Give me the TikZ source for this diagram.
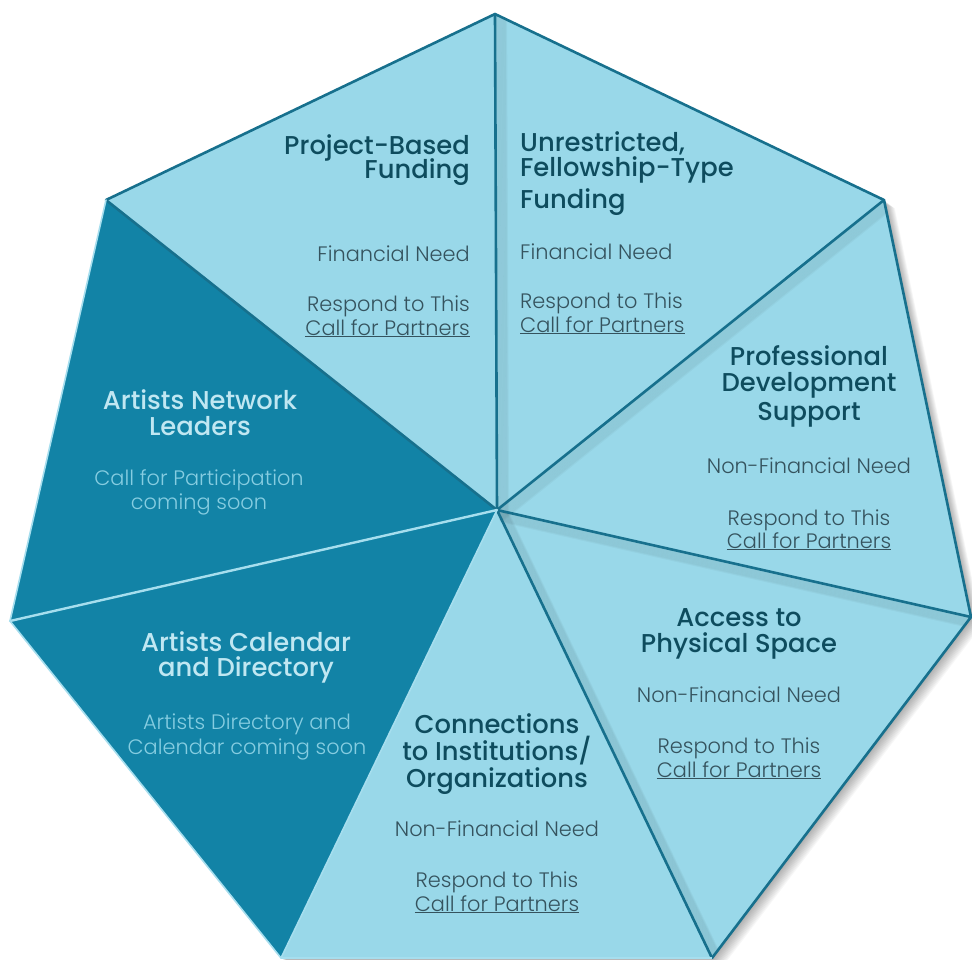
\documentclass[tikz,border=0pt]{standalone}
\usepackage{fontspec}
\setmainfont{Poppins}
\IfFontExistsTF{Poppins Light}{\newfontfamily\bodyfnt{Poppins Light}}{\newfontfamily\bodyfnt{Poppins}}
\IfFontExistsTF{Poppins Medium}{\newfontfamily\titlefnt{Poppins Medium}}{\newfontfamily\titlefnt{Poppins}[UprightFont=*-Bold]}
\definecolor{lightfill}{HTML}{99D8E9}
\definecolor{darkfill}{HTML}{1283A6}
\definecolor{edgecol}{HTML}{17708D}
\definecolor{titlecol}{HTML}{0E4C5E}
\definecolor{bodycol}{HTML}{35535E}
\definecolor{dtitlecol}{HTML}{C0E7F2}
\definecolor{dbodycol}{HTML}{86CDE1}
\definecolor{sepcol}{HTML}{A6DEEE}
\tikzset{
  ttl/.style={font=\titlefnt\fontsize{25.8}{29}\selectfont, text=titlecol, inner sep=0pt},
  bdy/.style={font=\bodyfnt\fontsize{20.9}{24}\selectfont, text=bodycol, inner sep=0pt},
  dttl/.style={ttl, text=dtitlecol},
  dbdy/.style={bdy, text=dbodycol},
  lightseg/.style={fill=lightfill},
  darkseg/.style={fill=darkfill},
  spoke/.style={draw=edgecol, line width=2.6pt, line join=round, line cap=round},
  lspoke/.style={draw=sepcol, line width=2.4pt, line join=round, line cap=round},
}
\newcommand{\cfp}{\underline{Call for Partners}}
\begin{document}
\begin{tikzpicture}[x=1pt,y=-1pt]
\useasboundingbox (0,0) rectangle (972,959);
\coordinate (C) at (497,510);
\coordinate (T) at (495,14);
\coordinate (UL) at (106,200);
\coordinate (UR) at (884,200);
\coordinate (R) at (971,617);
\coordinate (L) at (10,621);
\coordinate (BL) at (281,958);
\coordinate (BR) at (712,958);
% outer drop shadow
\foreach \k in {1,...,12}{
  \fill[black,opacity=0.03] ([shift={(\k*0.9,\k*0.7)}]T) -- ([shift={(\k*0.9,\k*0.7)}]UR) -- ([shift={(\k*0.9,\k*0.7)}]R) -- ([shift={(\k*0.9,\k*0.7)}]BR) -- ([shift={(\k*0.9,\k*0.7)}]BL) -- ([shift={(\k*0.9,\k*0.7)}]L) -- ([shift={(\k*0.9,\k*0.7)}]UL) -- cycle;
}
% segments
\fill[lightseg] (C) -- (T) -- (UL) -- cycle;
\fill[lightseg] (C) -- (T) -- (UR) -- cycle;
\fill[lightseg] (C) -- (UR) -- (R) -- cycle;
\fill[lightseg] (C) -- (R) -- (BR) -- cycle;
\fill[lightseg] (C) -- (BR) -- (BL) -- cycle;
\fill[darkseg] (C) -- (UL) -- (L) -- cycle;
\fill[darkseg] (C) -- (L) -- (BL) -- cycle;
% inner shadows cast by the spokes
\begin{scope}
  \clip (T) -- (UR) -- (R) -- (BR) -- (BL) -- (C) -- cycle;
  \foreach \k in {1,...,10}{
    \draw[black,opacity=0.032,line width=2.2pt] ([shift={(\k*1.1,\k*0.5)}]C) -- ([shift={(\k*1.1,\k*0.5)}]T);
    \draw[black,opacity=0.032,line width=2.2pt] ([shift={(\k*0.5,\k*1.1)}]C) -- ([shift={(\k*0.5,\k*1.1)}]UR);
    \draw[black,opacity=0.032,line width=2.2pt] ([shift={(\k*0.3,\k*1.1)}]C) -- ([shift={(\k*0.3,\k*1.1)}]R);
    \draw[black,opacity=0.032,line width=2.2pt] ([shift={(\k*1.1,\k*0.3)}]C) -- ([shift={(\k*1.1,\k*0.3)}]BR);
  }
\end{scope}
% outlines
\draw[spoke] (T) -- (UR) -- (R) -- (BR);
\draw[spoke] (UL) -- (T);
\draw[spoke] (C) -- (T);
\draw[spoke] (C) -- (UR);
\draw[spoke] (C) -- (R);
\draw[spoke] (C) -- (BR);
\draw[spoke] (C) -- (UL);
\draw[lspoke, line width=1.6pt] (UL) -- (L) -- (BL);
\draw[lspoke] (C) -- (L);
\draw[lspoke, line width=1.6pt] (C) -- (BL);
\draw[draw=sepcol, line width=1.5pt] (BL) -- (BR);

% Project-Based Funding
\node[ttl, anchor=base east] (pb1) at (470,154) {Project-Based};
\node[ttl, anchor=base east] (pb2) at (470,178) {Funding};
\node[bdy, anchor=base east] (pb3) at (470,261) {Financial Need};
\node[bdy, anchor=base east] (pb4) at (470,311) {Respond to This};
\node[bdy, anchor=base east] (pb5) at (470,335) {\cfp};
% Unrestricted
\node[ttl, anchor=base west] (un1) at (520,151) {Unrestricted,};
\node[ttl, anchor=base west] (un2) at (520,176) {Fellowship-Type};
\node[ttl, anchor=base west] (un3) at (520,208) {Funding};
\node[bdy, anchor=base west] (un4) at (520,259) {Financial Need};
\node[bdy, anchor=base west] (un5) at (520,308) {Respond to This};
\node[bdy, anchor=base west] (un6) at (520,332) {\cfp};
% Professional Development Support
\node[ttl, anchor=base] (pd1) at (809,365) {Professional};
\node[ttl, anchor=base] (pd2) at (809,391) {Development};
\node[ttl, anchor=base] (pd3) at (809,420) {Support};
\node[bdy, anchor=base] (pd4) at (809,473) {Non-Financial Need};
\node[bdy, anchor=base] (pd5) at (809,525) {Respond to This};
\node[bdy, anchor=base] (pd6) at (809,548) {\cfp};
% Access to Physical Space
\node[ttl, anchor=base] (ap1) at (739,626) {Access to};
\node[ttl, anchor=base] (ap2) at (739,652) {Physical Space};
\node[bdy, anchor=base] (ap3) at (739,702) {Non-Financial Need};
\node[bdy, anchor=base] (ap4) at (739,753) {Respond to This};
\node[bdy, anchor=base] (ap5) at (739,777) {\cfp};
% Connections
\node[ttl, anchor=base] (co1) at (497,733) {Connections};
\node[ttl, anchor=base] (co2) at (497,760) {to Institutions/};
\node[ttl, anchor=base] (co3) at (497,787) {Organizations};
\node[bdy, anchor=base] (co4) at (497,836) {Non-Financial Need};
\node[bdy, anchor=base] (co5) at (497,887) {Respond to This};
\node[bdy, anchor=base] (co6) at (497,911) {\cfp};
% Artists Network Leaders
\node[dttl, anchor=base] (nl1) at (200,409) {Artists Network};
\node[dttl, anchor=base] (nl2) at (200,435) {Leaders};
\node[dbdy, anchor=base] (nl3) at (199,485) {Call for Participation};
\node[dbdy, anchor=base] (nl4) at (199,509) {coming soon};
% Artists Calendar and Directory
\node[dttl, anchor=base] (cd1) at (246,651) {Artists Calendar};
\node[dttl, anchor=base] (cd2) at (246,676) {and Directory};
\node[dbdy, anchor=base] (cd3) at (247,729) {Artists Directory and};
\node[dbdy, anchor=base] (cd4) at (247,754) {Calendar coming soon};
\end{tikzpicture}
\end{document}
